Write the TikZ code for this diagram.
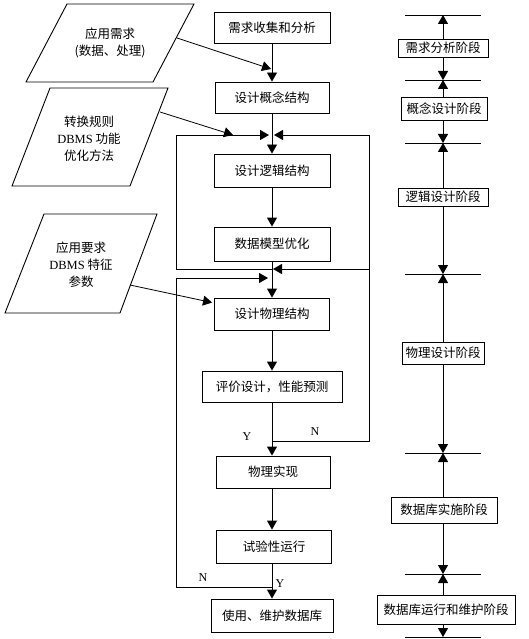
\documentclass[tikz,border=0pt]{standalone}
\usepackage{fontspec}
\setmainfont{Liberation Serif}
\newfontfamily\cjk{Noto Sans CJK SC}
\newfontfamily\tm{Liberation Serif}
\usetikzlibrary{arrows.meta,calc}
\begin{document}
\begin{tikzpicture}[x=1pt,y=-1pt,
  line width=0.9pt,
  arr/.style={-{Triangle[width=10pt,length=9pt]}},
  box/.style={draw,inner sep=0pt,font=\cjk\fontsize{12.5}{15}\selectfont,align=center},
  stage/.style={draw,inner sep=0pt,font=\cjk\fontsize{12.5}{15}\selectfont},
  ptext/.style={align=center,inner sep=0pt,font=\cjk\fontsize{12.5}{17}\selectfont},
  yn/.style={inner sep=0pt,font=\tm\fontsize{12}{14}\selectfont},
  tick/.style={line width=0.9pt}
]
\fill[white] (0,0) rectangle (528,639);
\useasboundingbox (0,0) rectangle (528,639);

% ---------- input parallelograms ----------
\draw (67,4) -- (194,4) -- (153,82) -- (26,82) -- cycle;
\node[ptext] (p1t) at (110,42.5) {应用需求\\(数据、处理)};
\draw (50,88) -- (168,88) -- (130,186) -- (12,186) -- cycle;
\node[ptext] (p2t) at (89,139) {转换规则\\{\tm DBMS} 功能\\优化方法};
\draw (44,214) -- (157,214) -- (120,313) -- (5,313) -- cycle;
\node[ptext] (p3t) at (81,265) {应用要求\\{\tm DBMS} 特征\\参数};
\coordinate (p1o) at (177,38);
\coordinate (p2o) at (160,112);
\coordinate (p3o) at (130,285);

% ---------- main flow ----------
\node[box,minimum width=116pt,minimum height=31pt] (n1) at (272,27.5) {需求收集和分析};
\node[box,minimum width=114pt,minimum height=31pt] (n2) at (272,97.5) {设计概念结构};
\node[box,minimum width=116pt,minimum height=33pt] (n3) at (272,170.5) {设计逻辑结构};
\node[box,minimum width=116pt,minimum height=34pt] (n4) at (272,244) {数据模型优化};
\node[box,minimum width=115pt,minimum height=32pt] (n5) at (272,314) {设计物理结构};
\node[box,minimum width=140pt,minimum height=31pt] (n6) at (272,386.5) {评价设计，性能预测};
\node[box,minimum width=114pt,minimum height=32pt] (n7) at (273,472) {物理实现};
\node[box,minimum width=115pt,minimum height=33pt] (n8) at (274,546.5) {试验性运行};
\node[box,minimum width=122pt,minimum height=33pt] (n9) at (272,615.5) {使用、维护数据库};

\coordinate (ax) at (272,0);
\coordinate (j1) at (272,135);
\coordinate (j2) at (272,269);
\coordinate (j3) at (272,278);
\coordinate (j4) at (272,441);
\coordinate (j5) at (272,587);
\coordinate (c1) at (176,269);
\coordinate (c2) at (176,135);
\coordinate (c3) at (176,587);
\coordinate (c4) at (176,278);
\coordinate (r1) at (369,441);
\coordinate (r2) at (369,135);
\coordinate (r3) at (369,269);
\coordinate (a1e) at (271,69);
\coordinate (a2e) at (233,135);

\draw[arr] (n1.south -| ax) -- (n2.north -| ax);
\draw[arr] (n2.south -| ax) -- (n3.north -| ax);
\draw[arr] (n3.south -| ax) -- (n4.north -| ax);
\draw[arr] (n4.south -| ax) -- (n5.north -| ax);
\draw[arr] (n5.south -| ax) -- (n6.north -| ax);
\draw[arr] (n6.south -| ax) -- (n7.north -| ax);
\draw[arr] (n7.south -| ax) -- (n8.north -| ax);
\draw[arr] (n8.south -| ax) -- (n9.north -| ax);

% feedback loops
\draw[arr] (j2) -- (c1) -- (c2) -- ($(j1)+(-3,0)$);
\draw[arr] (j4) -- (r1) -- (r2) -- ($(j1)+(2,0)$);
\draw[arr] (r3) -- ($(j2)+(1,0)$);
\draw[arr] (j5) -- (c3) -- (c4) -- ($(j3)+(-4,0)$);

% input arrows
\draw[arr,line width=0.8pt] (p1o) -- (a1e);
\draw[arr,line width=0.8pt] (p2o) -- (a2e);
\draw[arr,line width=0.8pt] (p3o) -- ($(n5.north west)+(-2,5)$);

% Y / N labels
\node[yn] (y1) at (247,437) {Y};
\node[yn] (nl1) at (315,432) {N};
\node[yn] (nl2) at (203,578) {N};
\node[yn] (y2) at (280,584) {Y};

% ---------- stage column ----------
\coordinate (t0) at (443,15);
\coordinate (t1) at (443,80);
\coordinate (t2) at (443,143);
\coordinate (t3) at (443,274);
\coordinate (t4) at (443,453);
\coordinate (t5) at (443,574);
\coordinate (t6) at (443,637);
\foreach \t in {t0,t1,t2,t3,t4,t5,t6}
  \draw[tick] ($(\t)+(-38,0)$) -- ($(\t)+(38,0)$);

\node[stage,minimum width=90pt,minimum height=18pt] (s1) at (443,48) {需求分析阶段};
\node[stage,minimum width=86pt,minimum height=23pt] (s2) at (444,108.5) {概念设计阶段};
\node[stage,minimum width=90pt,minimum height=18pt] (s3) at (443,197) {逻辑设计阶段};
\node[stage,minimum width=82pt,minimum height=22pt] (s4) at (443,353) {物理设计阶段};
\node[stage,minimum width=106pt,minimum height=26pt] (s5) at (444,510) {数据库实施阶段};
\node[stage,minimum width=138pt,minimum height=29pt] (s6) at (446,609.5) {数据库运行和维护阶段};

\draw[arr] (s1.north -| t0) -- (t0);
\draw[arr] (s1.south -| t0) -- (t1);
\draw[arr] (s2.north -| t0) -- (t1);
\draw[arr] (s2.south -| t0) -- (t2);
\draw[arr] (s3.north -| t0) -- (t2);
\draw[arr] (s3.south -| t0) -- (t3);
\draw[arr] (s4.north -| t0) -- (t3);
\draw[arr] (s4.south -| t0) -- (t4);
\draw[arr] (s5.north -| t0) -- (t4);
\draw[arr] (s5.south -| t0) -- (t5);
\draw[arr] (s6.north -| t0) -- (t5);
\draw[arr] (s6.south -| t0) -- (t6);
\end{tikzpicture}
\end{document}
